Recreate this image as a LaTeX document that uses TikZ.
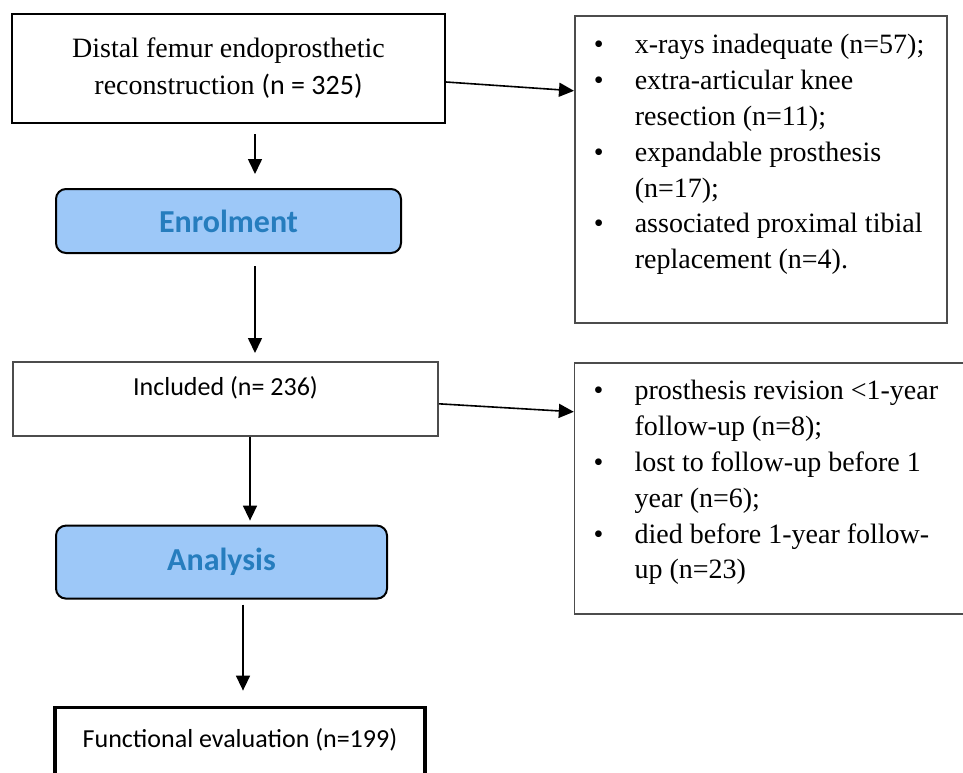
\documentclass[tikz,border=0pt]{standalone}
\usepackage{fontspec}
\setmainfont{Liberation Serif}
\newfontfamily\calibri{Carlito}
\usepackage{tikz}
\usetikzlibrary{shapes.geometric, arrows.meta, calc, positioning}
\definecolor{phasefill}{RGB}{157,200,248}
\definecolor{phasetext}{RGB}{38,125,190}
\tikzstyle{block} = [rectangle, line width=1pt, draw=black, inner sep=0pt]
\tikzstyle{phase} = [rectangle, rounded corners=5pt, line width=1pt, draw=black, fill=phasefill, text=phasetext, font=\calibri\bfseries\fontsize{16}{19}\selectfont]
\tikzstyle{arrow} = [thick,-{Triangle[length=7.5pt,width=7pt]}]
\newcommand{\bul}{\hspace*{9.5pt}\makebox[20.5pt][l]{\textbullet}}
\newcommand{\cont}{\hspace*{30pt}}

\begin{document}
\begin{tikzpicture}[node distance = 10mm, auto]
		\useasboundingbox (0,0) rectangle (481.5pt,-386pt);
		\clip (0,0) rectangle (481.5pt,-386pt);
		\node (Source) [block, minimum width=216.5pt, minimum height=54.5pt, align=center, font=\fontsize{14}{18.5}\selectfont] at (114.25pt,-34.25pt) {Distal femur endoprosthetic\\reconstruction {\calibri (n = 325)}};
		\node (Enrol) [phase, minimum width=172.5pt, minimum height=32pt, below = 32pt of Source] {Enrolment};
		\node (Included) [block, draw=black!70, line width=0.8pt, minimum width=212.5pt, text height=16.7pt, text depth=20.3pt, font=\calibri\fontsize{13}{16}\selectfont, below = 53.5pt of Enrol, xshift=-1.5pt] {Included (n= 236)};
		\node (Analysis) [phase, minimum width=165.5pt, minimum height=36.5pt, below = 44pt of Included, xshift=-2pt] {Analysis};
		\node (Functional) [block, line width=1.75pt, minimum width=185pt, text height=20.2pt, text depth=31.5pt, font=\calibri\fontsize{13}{16}\selectfont, below = 53pt of Analysis, xshift=9.25pt] {Functional evaluation (n=199)};
		\node (ExclA) [block, draw=black!70, line width=0.8pt, right = 64pt of Source.north east, anchor=north west, yshift=-1pt] {\parbox[t][153.5pt][t]{186pt}{\fontsize{14}{17.9}\selectfont
			\rule{0pt}{19pt}\bul x-rays inadequate (n=57);\\
			\bul extra-articular knee\\
			\cont resection (n=11);\\
			\bul expandable prosthesis\\
			\cont (n=17);\\
			\bul associated proximal tibial\\
			\cont replacement (n=4).}};
		\node (ExclB) [block, draw=black!70, line width=0.8pt, right = 67.5pt of Included.north east, anchor=north west, yshift=-0.5pt] {\parbox[t][125.5pt][t]{200pt}{\fontsize{14}{17.9}\selectfont
			\rule{0pt}{18.5pt}\bul prosthesis revision <1-year\\
			\cont follow-up (n=8);\\
			\bul lost to follow-up before 1\\
			\cont year (n=6);\\
			\bul died before 1-year follow-\\
			\cont up (n=23)}};
		% flow down the left column
		\draw [arrow] ([xshift=13.25pt, yshift=-5pt]Source.south) -- ([xshift=13.25pt, yshift=7pt]Enrol.north);
		\draw [arrow] ([xshift=13.25pt, yshift=-6pt]Enrol.south) -- ([xshift=14.75pt, yshift=4pt]Included.north);
		\draw [arrow] ([xshift=12.25pt]Included.south) -- ([xshift=14.25pt, yshift=2pt]Analysis.north);
		\draw [arrow] ([xshift=10.75pt, yshift=-2.5pt]Analysis.south) -- ([xshift=1.5pt, yshift=7.5pt]Functional.north);
		% exclusions
		\draw [arrow] ([yshift=-6.75pt]Source.east) -- ([yshift=39.25pt]ExclA.west);
		\draw [arrow] ([yshift=-2.5pt]Included.east) -- ([yshift=38.25pt]ExclB.west);
\end{tikzpicture}
\end{document}
